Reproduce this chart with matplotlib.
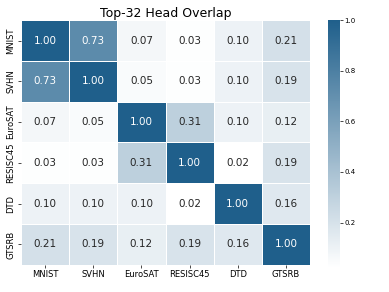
import matplotlib
matplotlib.use("Agg")
import matplotlib.pyplot as plt
import numpy as np
import seaborn as sns
from matplotlib.colors import LinearSegmentedColormap

labels = ["MNIST", "SVHN", "EuroSAT", "RESISC45", "DTD", "GTSRB"]
row_mnist = [1.00, 0.73, 0.07, 0.03, 0.10, 0.21]
row_svhn = [0.73, 1.00, 0.05, 0.03, 0.10, 0.19]
row_eurosat = [0.07, 0.05, 1.00, 0.31, 0.10, 0.12]
row_resisc = [0.03, 0.03, 0.31, 1.00, 0.02, 0.19]
row_dtd = [0.10, 0.10, 0.10, 0.02, 1.00, 0.16]
row_gtsrb = [0.21, 0.19, 0.12, 0.19, 0.16, 1.00]
data = np.array([row_mnist, row_svhn, row_eurosat, row_resisc, row_dtd, row_gtsrb])

cmap = LinearSegmentedColormap.from_list("wb", ["#ffffff", "#1f5f8b"])

fig = plt.figure(figsize=(3.89, 2.92), dpi=100)
ax = fig.add_axes([0.054, 0.093, 0.743, 0.838])
cax = fig.add_axes([0.843, 0.082, 0.031, 0.849])
sns.heatmap(data, ax=ax, cbar_ax=cax, cmap=cmap, annot=True, fmt=".2f",
            linewidths=0.5, linecolor="white",
            xticklabels=labels, yticklabels=labels,
            annot_kws={"fontsize": 7.5})
ax.set_title("Top-32 Head Overlap", fontsize=9, pad=2)
ax.tick_params(axis="both", labelsize=6, length=2, width=0.5, pad=2)
plt.setp(ax.get_xticklabels(), rotation=0, ha="center")
plt.setp(ax.get_yticklabels(), rotation=90, va="center")
cax.tick_params(labelsize=5, length=2, width=0.5, pad=1)
cax.set_yticks([0.2, 0.4, 0.6, 0.8, 1.0])
cax.set_yticklabels(["0.2", "0.4", "0.6", "0.8", "1.0"])
for s in cax.spines.values():
    s.set_visible(False)
fig.savefig("out.png", dpi=100)
